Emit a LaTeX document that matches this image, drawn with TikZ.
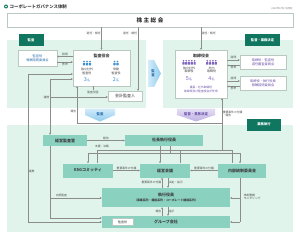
\documentclass[tikz,border=0pt]{standalone}
\usepackage{fontspec}
\setmainfont{Noto Sans CJK JP}
\usepackage{tikz}
\usetikzlibrary{arrows.meta, positioning, calc}

\definecolor{panel}{HTML}{E0F4EC}
\definecolor{tabgreen}{HTML}{11765F}
\definecolor{exec}{HTML}{8AD1C0}
\definecolor{boxline}{HTML}{B9C9C2}
\definecolor{linegray}{HTML}{8C8C8C}
\definecolor{icoblue}{HTML}{3D8ED3}
\definecolor{icopurple}{HTML}{7F63BF}
\definecolor{chevblueL}{HTML}{D4ECF9}
\definecolor{chevblue}{HTML}{8FCBEF}
\definecolor{chevpurL}{HTML}{E6E0F5}
\definecolor{chevpur}{HTML}{BDB0E3}
\definecolor{bluetext}{HTML}{2E6FAE}
\definecolor{purpletext}{HTML}{6A4FA8}

\begin{document}
\begin{tikzpicture}[x=1pt, y=-1pt,
	wbox/.style={draw=boxline, fill=white, line width=0.3pt, inner sep=0pt, align=center,
		text=black!80, font=\fontsize{4}{4.8}\selectfont},
	gbox/.style={fill=exec, inner sep=0pt, align=center, text=black!75,
		font=\fontsize{4}{4.8}\selectfont\bfseries},
	tab/.style={fill=tabgreen, inner sep=0pt, minimum height=12pt, text=white,
		font=\fontsize{3.3}{4}\selectfont\bfseries},
	lbl/.style={inner sep=0.6pt, align=center, text=black!70, font=\fontsize{2.8}{3.3}\selectfont},
	txt/.style={inner sep=0pt, align=center, text=black!75, font=\fontsize{3}{3.6}\selectfont},
	ln/.style={draw=linegray, line width=0.4pt},
	arr/.style={ln, -{Stealth[length=2pt, width=2pt]}},
	dbl/.style={ln, {Stealth[length=2pt, width=2pt]}-{Stealth[length=2pt, width=2pt]}}
	]
	\useasboundingbox (0,0) rectangle (300,238);
	\fill[white] (0,0) rectangle (300,238);
	
	% panels
	\fill[panel] (7,40) rectangle (146,108);
	\fill[panel] (163,40) rectangle (293,108);
	\fill[panel] (7,125) rectangle (293,232);
	
	% title
	\node[circle, fill=tabgreen, minimum size=4pt, inner sep=0pt] (bullet) at (6,6.5) {};
	\fill[white] (bullet) circle (0.8pt);
	\node[anchor=west, inner sep=0pt, text=black!75, font=\fontsize{4.4}{5}\selectfont\bfseries] (title) at (9.5,6.5) {コーポレートガバナンス体制};
	\node[anchor=east, inner sep=0pt, text=black!50, font=\fontsize{2.4}{3}\selectfont] (date) at (293,8.5) {2020年3月27日現在};
	
	\node[wbox, minimum width=286pt, minimum height=14pt, font=\fontsize{5.6}{6.5}\selectfont\bfseries] (soukai) at (150,20) {株\hspace{1.5pt}主\hspace{1.5pt}総\hspace{1.5pt}会};
	
	\node[tab, minimum width=25pt] (tabaudit) at (31,40.5) {監査};
	\node[tab, minimum width=35pt] (tabboard) at (262.5,40.5) {監督・業務決定};
	\node[tab, minimum width=34pt] (tabexec) at (264,124.5) {業務執行};
	
	% chevrons
	\shade[top color=chevblueL, bottom color=chevblue] (85,108.5) -- (115,108.5) -- (115,115) -- (100,121.5) -- (85,115) -- cycle;
	\node[txt, text=bluetext, font=\fontsize{3.4}{4}\selectfont\bfseries] (chevaudit) at (100,114) {監査};
	\shade[left color=chevblueL, right color=chevblue] (148,60) -- (154,60) -- (161,73.5) -- (154,87) -- (148,87) -- cycle;
	\node[txt, text=bluetext, font=\fontsize{3.4}{4.2}\selectfont\bfseries] (chevside) at (153,73.5) {監\\査};
	\shade[top color=chevpurL, bottom color=chevpur] (177,108.5) -- (215,108.5) -- (215,115) -- (196,121.5) -- (177,115) -- cycle;
	\node[txt, text=purpletext, font=\fontsize{3.4}{4}\selectfont\bfseries] (chevboard) at (196,114) {監督・意思決定};
	
	% audit side
	\node[wbox, minimum width=57pt, minimum height=36pt] (kansa) at (101.5,68) {};
	\node[txt, font=\fontsize{4}{4.8}\selectfont\bfseries] (kansattl) at (101.5,55.5) {監査役会};
	\foreach \px in {84,87,90,114.5,117.5} {
		\fill[icoblue] (\px,61.6) circle (0.9pt);
		\fill[icoblue, rounded corners=0.3pt] (\px-1.1,63) rectangle (\px+1.1,65.4);
	}
	\node[txt] (kansaout) at (87,71.5) {独立社外\\監査役};
	\node[txt] (kansain) at (116,71.5) {常勤\\監査役};
	\node[txt, text=icoblue] (kansan1) at (87,79.5) {{\fontsize{5.5}{6}\selectfont 3}名};
	\node[txt, text=icoblue] (kansan2) at (116,79.5) {{\fontsize{5.5}{6}\selectfont 2}名};
	
	\node[wbox, minimum width=39pt, minimum height=16pt, text=bluetext, font=\fontsize{3.2}{3.9}\selectfont] (iinkaiL) at (37.5,58) {監査役\\報酬諮問委員会};
	\node[wbox, minimum width=34pt, minimum height=10pt] (kaikei) at (125,96) {会計監査人};
	\node[lbl] (shitsu) at (93,92) {監査役室};
	
	% board side
	\node[wbox, minimum width=52pt, minimum height=48pt] (tori) at (201,74) {};
	\node[txt, font=\fontsize{4}{4.8}\selectfont\bfseries] (toritl) at (201,55.5) {取締役会};
	\foreach \px in {183.4,186.2,189,191.8,194.6,207.3,210.1,212.9,215.7} {
		\fill[icopurple] (\px,60.8) circle (0.9pt);
		\fill[icopurple, rounded corners=0.3pt] (\px-1.1,62.2) rectangle (\px+1.1,64.6);
	}
	\node[txt] (toriout) at (189,70) {独立社外\\取締役};
	\node[txt] (toriin) at (211.5,70) {社内\\取締役};
	\node[txt, text=icopurple] (torin1) at (189,78.5) {{\fontsize{5.5}{6}\selectfont 5}名};
	\node[txt, text=icopurple] (torin2) at (211.5,78.5) {{\fontsize{5.5}{6}\selectfont 4}名};
	\node[txt, text=purpletext, font=\fontsize{2.8}{3.5}\selectfont] (gicho) at (201,89.5) {議長：社外取締役\\取締役及び監査役会が任命};
	
	\node[wbox, minimum width=46pt, minimum height=14pt, text=purpletext, font=\fontsize{3.2}{3.9}\selectfont] (iinkaiR1) at (263,62) {取締役・監査役\\選任審査委員会};
	\node[wbox, minimum width=46pt, minimum height=14pt, text=purpletext, font=\fontsize{3.2}{3.9}\selectfont] (iinkaiR2) at (263,83) {取締役・執行役員\\報酬諮問委員会};
	
	% execution side
	\node[gbox, minimum width=44pt, minimum height=11pt] (keikan) at (65,140.5) {経営監査室};
	\node[gbox, minimum width=78pt, minimum height=11pt] (shacho) at (164,140.5) {社長執行役員};
	\node[gbox, minimum width=50pt, minimum height=14pt] (esg) at (88,170.5) {ESGコミッティ};
	\node[gbox, minimum width=50pt, minimum height=14pt] (kaigi) at (165,170.5) {経営会議};
	\node[gbox, minimum width=48pt, minimum height=14pt] (naibu) at (242,170.5) {内部統制委員会};
	\node[gbox, minimum width=128pt, minimum height=19pt] (shikko) at (166,197.5) {執行役員\\[0.3pt]{\fontsize{2.9}{3.4}\selectfont（事業系列・機能系列・コーポレート機能系列）}};
	\node[gbox, minimum width=128pt, minimum height=12pt] (group) at (166,222) {グループ会社};
	\node[wbox, minimum width=21pt, minimum height=7pt, font=\fontsize{3}{3.6}\selectfont] (gkansa) at (122.5,222) {監査役};
	
	% shareholders
	\coordinate (kk) at (138,0);
	\draw[arr] (soukai.south -| kansa.north) -- node[lbl, left, pos=0.27]{選任・解任} (kansa.north);
	\draw[arr] (soukai.south -| kk) -- node[lbl, left, pos=0.1]{選任・解任} (kaikei.north -| kk);
	\draw[arr] (soukai.south -| tori.north) -- node[lbl, right, pos=0.27]{選任・解任} (tori.north);
	
	% committees
	\draw[arr] (kansa.west |- 0,56.5) -- node[lbl, above]{諮問} (iinkaiL.east |- 0,56.5);
	\draw[arr] (iinkaiL.east |- 0,62) -- node[lbl, below]{答申} (kansa.west |- 0,62);
	\draw[arr] (tori.east |- 0,60) -- node[lbl, above]{諮問} (iinkaiR1.west |- 0,60);
	\draw[arr] (iinkaiR1.west |- 0,65.5) -- node[lbl, below]{答申} (tori.east |- 0,65.5);
	\draw[arr] (tori.east |- 0,81) -- node[lbl, above]{諮問} (iinkaiR2.west |- 0,81);
	\draw[arr] (iinkaiR2.west |- 0,86.5) -- node[lbl, below]{答申} (tori.east |- 0,86.5);
	\draw[ln] (kansa.south -| shitsu.north) -- (shitsu.north);
	
	% audit links
	\draw[dbl] (kansa.west |- 0,74) -- (28,74) -- node[lbl, right, pos=0.66]{連携} (28,222) -- (group.west |- 0,222);
	\draw[dbl] (kansa.west |- 0,79) -- (50,79) -- (keikan.north -| 50,0);
	\draw[arr] (50,97) node[lbl, left]{連携} -- (kaikei.west |- 0,97);
	\draw[ln] (keikan.south -| 50,0) -- (50,218);
	\draw[arr] (50,198) -- node[lbl, above, pos=0.22]{内部監査} (shikko.west |- 0,198);
	\draw[arr] (50,218) -- (group.west |- 0,218);
	
	% reporting
	\coordinate (rep) at (222,123);
	\draw[arr] (222,150) -- (rep) -- (77,123) -- node[lbl, left, pos=0.32]{報告} (kansa.south -| 77,0);
	\draw[arr] (rep) -- node[lbl, right, align=left, pos=0.36]{重要案件の付議\\・報告} (tori.south -| rep);
	\draw[ln] (esg.north -| 97,0) -- (97,150) -- (232,150) -- (naibu.north -| 232,0);
	\draw[ln] (kaigi.north -| 180,0) -- (180,150);
	
	% support
	\draw[ln] (shacho.south -| 170,0) -- (170,153);
	\draw[arr] (170,153) -- (88,153) -- (esg.north -| 88,0);
	\draw[arr] (170,153) -- (240,153) -- (naibu.north -| 240,0);
	\node[lbl] (shien) at (102,146.5) {支援・決裁};
	\draw[arr] (shacho.south -| 160,0) -- (kaigi.north -| 160,0);
	\draw[arr] (keikan.east) -- node[lbl, above]{報告} (shacho.west);
	
	% execution
	\draw[arr] (esg.east) -- node[lbl, above]{重要案件の付議} (kaigi.west);
	\draw[arr] (naibu.west) -- node[lbl, above]{重要案件の付議} (kaigi.east);
	\draw[arr] (shikko.north -| 162,0) -- node[lbl, left]{重要案件の付議} (kaigi.south -| 162,0);
	\draw[arr] (kaigi.south -| 168,0) -- node[lbl, right]{決定・指示} (shikko.north -| 168,0);
	\draw[arr] (group.north -| 162,0) -- node[lbl, left]{報告} (shikko.south -| 162,0);
	\draw[arr] (shikko.south -| 168,0) -- node[lbl, right]{指示} (group.north -| 168,0);
	
	% monitoring
	\draw[ln] (naibu.south -| 240,0) -- (240,222);
	\draw[arr] (240,198) -- (shikko.east |- 0,198);
	\draw[arr] (240,222) -- (group.east |- 0,222);
	\node[lbl, anchor=west, align=left] (taisei) at (243,197) {体制整備\\モニタリング};
\end{tikzpicture}
\end{document}
